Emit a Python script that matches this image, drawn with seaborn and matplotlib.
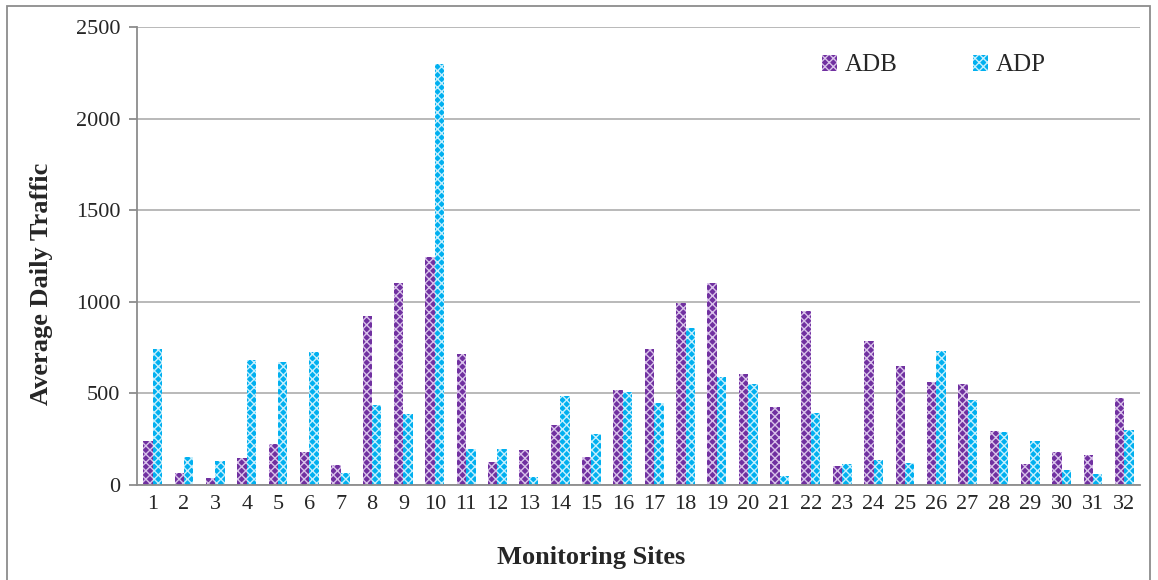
import numpy as np
import pandas as pd
import seaborn as sns
import matplotlib
matplotlib.use("Agg")
import matplotlib.pyplot as plt
from matplotlib.patches import Patch, Rectangle

sites = [str(i) for i in range(1, 33)]
adb = [240, 64, 36, 147, 224, 178, 109, 923, 1105, 1245, 715, 126, 193, 326, 153, 517,
       741, 995, 1101, 608, 424, 950, 105, 785, 650, 561, 551, 293, 115, 182, 162, 473]
adp = [742, 151, 133, 684, 670, 726, 65, 435, 386, 2300, 197, 198, 44, 486, 277, 510,
       446, 855, 588, 550, 51, 393, 113, 137, 122, 732, 464, 288, 240, 82, 62, 300]
series = ["ADB", "ADP"]
colors = {"ADB": "#7030A0", "ADP": "#00B0F0"}
hatch_colors = {"ADB": "#d9c2ea", "ADP": "#c6effd"}

df = pd.DataFrame({
    "Site": sites * 2,
    "Series": ["ADB"] * len(sites) + ["ADP"] * len(sites),
    "Value": adb + adp,
})

sns.set_theme(style="white")
plt.rcParams["font.family"] = ["Liberation Serif", "DejaVu Serif"]
plt.rcParams["hatch.linewidth"] = 1.0

fig = plt.figure(figsize=(11.58, 5.80), dpi=100)
ax = fig.add_axes([137 / 1158, 1 - 485 / 580, (1140 - 137) / 1158, (485 - 27) / 580])

sns.barplot(data=df, x="Site", y="Value", hue="Series", palette=colors,
            width=0.6, ax=ax, saturation=1, legend=False)

for cont, s in zip(ax.containers, series):
    for bar in cont:
        bar.set_hatch("xxxx")
        bar.set_edgecolor(hatch_colors[s])
        bar.set_linewidth(0)

ax.set_ylim(0, 2500)
ax.set_xlim(-0.5, len(sites) - 0.5)
ax.set_yticks(np.arange(0, 2501, 500))
ax.yaxis.grid(True, color="#b3b3b3", linewidth=1.3)
ax.set_axisbelow(True)
for side in ["top", "right"]:
    ax.spines[side].set_visible(False)
for side in ["left", "bottom"]:
    ax.spines[side].set_color("#8c8c8c")
    ax.spines[side].set_linewidth(1.3)

ax.set_xticks(np.arange(-0.5, len(sites), 1.0), minor=True)
ax.tick_params(axis="x", which="minor", length=6, color="#8c8c8c", width=1.3, direction="out")
ax.tick_params(axis="x", which="major", length=0, labelsize=16, pad=7)
ax.tick_params(axis="y", length=6, color="#8c8c8c", width=1.3, direction="out", labelsize=16, pad=6, left=True)

ax.set_xlabel("Monitoring Sites", fontsize=19, fontweight="bold")
ax.set_ylabel("Average Daily Traffic", fontsize=19, fontweight="bold")
ax.xaxis.set_label_coords(0.453, -0.133)
ax.yaxis.set_label_coords(-0.084, 0.439)

handles = [Patch(facecolor=colors[s], edgecolor=hatch_colors[s], hatch="xxxx", linewidth=0, label=s) for s in series]
ax.legend(handles=handles, loc="center left", bbox_to_anchor=(0.661, 0.916), ncol=2,
          frameon=False, fontsize=18, columnspacing=3.0, handlelength=0.6, handleheight=0.6,
          handletextpad=0.3)

fig.patches.append(Rectangle((7 / 1158, -0.02), (1150 - 7) / 1158, 1.02 - 6 / 580,
                             transform=fig.transFigure, fill=False, edgecolor="#8c8c8c",
                             linewidth=1.3))

fig.savefig("out.png", dpi=100)
